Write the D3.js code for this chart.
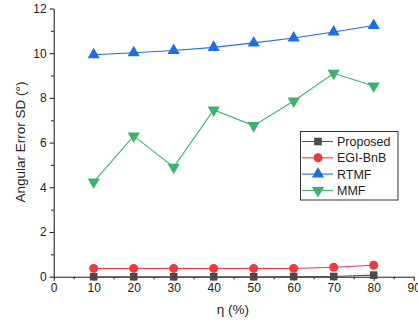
<!DOCTYPE html>
<html><head><meta charset="utf-8">
<script src="https://cdn.jsdelivr.net/npm/d3@7"></script>
<style>body{margin:0;background:#fff;font-family:Arial,"Liberation Sans",sans-serif}</style>
</head><body><svg id="c" width="418" height="322"></svg>
<script>
const etas = [10,20,30,40,50,60,70,80];
const proposed = [0.0,0.0,0.0,0.0,0.0,0.01,0.01,0.07];
const egiBnB = [0.37,0.37,0.37,0.37,0.37,0.37,0.42,0.51];
const rtmf = [9.93,10.02,10.12,10.26,10.46,10.68,10.95,11.24];
const mmf = [4.24,6.30,4.90,7.46,6.76,7.86,9.10,8.53];
const xTicks = [0,10,20,30,40,50,60,70,80,90];
const yTicks = [0,2,4,6,8,10,12];

const series = [
  {name:"Proposed", values:proposed, color:"#4a4a4a", line:"#555", sym:d3.symbolSquare, size:58, rot:0},
  {name:"EGI-BnB", values:egiBnB, color:"#ec3b40", line:"#ec3b40", sym:d3.symbolCircle, size:64, rot:0},
  {name:"RTMF", values:rtmf, color:"#1f6fdf", line:"#1f6fdf", sym:d3.symbolTriangle, size:64, rot:0},
  {name:"MMF", values:mmf, color:"#3cb26c", line:"#3cb26c", sym:d3.symbolTriangle, size:64, rot:180}
];

const svg = d3.select("#c");
const x = d3.scaleLinear().domain([0,90]).range([53.7,413.7]);
const y = d3.scaleLinear().domain([0,12]).range([276.7,8.5]);

const xAxis = svg.append("g").attr("transform","translate(0,276.7)")
  .call(d3.axisBottom(x).tickValues(xTicks).tickSize(4).tickSizeOuter(0).tickPadding(3));
const xMinor = svg.append("g").attr("transform","translate(0,276.7)")
  .call(d3.axisBottom(x).tickValues(d3.range(5,90,10)).tickSize(2.5).tickFormat("").tickSizeOuter(0));
const yAxis = svg.append("g").attr("transform","translate(53.7,0)")
  .call(d3.axisLeft(y).tickValues(yTicks).tickSize(4).tickSizeOuter(0).tickPadding(3));
const yMinor = svg.append("g").attr("transform","translate(53.7,0)")
  .call(d3.axisLeft(y).tickValues(d3.range(1,12,2)).tickSize(2.5).tickFormat("").tickSizeOuter(0));
[xAxis,yAxis,xMinor,yMinor].forEach(g=>{
  g.selectAll("path,line").attr("stroke","#222").attr("stroke-width",1.1);
  g.selectAll("text").attr("font-size",12).attr("fill","#222").attr("font-family","Arial, 'Liberation Sans', sans-serif");
});
xMinor.select("path").remove(); yMinor.select("path").remove();

const line = d3.line().x((d,i)=>x(etas[i])).y(d=>y(d));
series.forEach(s=>{
  svg.append("path").datum(s.values).attr("d",line).attr("fill","none")
    .attr("stroke",s.line).attr("stroke-width",1.1);
  svg.append("g").selectAll("path").data(s.values).join("path")
    .attr("d",d3.symbol().type(s.sym).size(s.size))
    .attr("transform",(d,i)=>`translate(${x(etas[i])},${y(d)}) rotate(${s.rot})`)
    .attr("fill",s.color);
});

svg.append("text").attr("x",233).attr("y",314).attr("text-anchor","middle")
  .attr("font-size",13.5).attr("fill","#222").text("η (%)");
svg.append("text").attr("transform","translate(25,142) rotate(-90)").attr("text-anchor","middle")
  .attr("font-size",13.5).attr("fill","#222").text("Angular Error SD (°)");

const lg = svg.append("g");
lg.append("rect").attr("x",300.5).attr("y",131.5).attr("width",97.5).attr("height",68.5)
  .attr("fill","#fff").attr("stroke","#333").attr("stroke-width",1);
series.forEach((s,i)=>{
  const yy = 141.5 + i*16.3;
  lg.append("line").attr("x1",302).attr("x2",333).attr("y1",yy).attr("y2",yy)
    .attr("stroke",s.line).attr("stroke-width",1.1);
  lg.append("path").attr("d",d3.symbol().type(s.sym).size(s.size))
    .attr("transform",`translate(318,${yy}) rotate(${s.rot})`).attr("fill",s.color);
  lg.append("text").attr("x",337).attr("y",yy+4.5).attr("font-size",12.5).attr("fill","#222").text(s.name);
});
</script></body></html>
